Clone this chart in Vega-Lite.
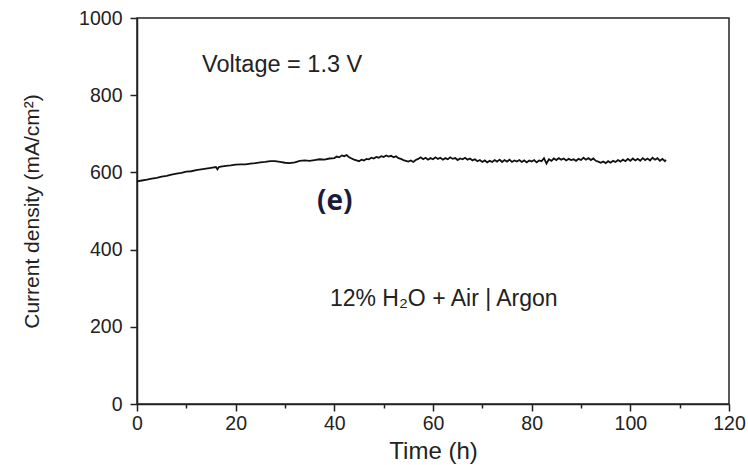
{
  "$schema": "https://vega.github.io/schema/vega-lite/v6.json",
  "autosize": {"type": "none"},
  "width": 592,
  "height": 386,
  "padding": {"left": 137, "top": 18, "right": 19, "bottom": 61},
  "background": "#ffffff",
  "config": {
    "view": {"stroke": "#222222", "strokeWidth": 1.5},
    "font": "Liberation Sans",
    "axis": {"grid": false, "domainColor": "#222222", "domainWidth": 1.5, "tickColor": "#222222", "tickWidth": 1.5, "labelFont": "Liberation Sans", "labelFontSize": 19.5, "labelColor": "#222222", "titleFont": "Liberation Sans", "titleFontSize": 21, "titleFontWeight": "normal", "titleColor": "#222222"}
  },
  "datasets": {
    "series": [
      {"t":0,"j":577},{"t":1,"j":579},{"t":2,"j":581},{"t":3,"j":584},{"t":4,"j":586},{"t":5,"j":589},{"t":6,"j":591},{"t":7,"j":594},{"t":8,"j":597},{"t":9,"j":599},
      {"t":10,"j":602},{"t":11,"j":603},{"t":12,"j":606},{"t":13,"j":608},{"t":14,"j":610},{"t":15,"j":612},{"t":16,"j":614},{"t":16.3,"j":608},{"t":16.6,"j":614},{"t":17,"j":615},{"t":18,"j":617},{"t":19,"j":618},
      {"t":20,"j":620},{"t":21,"j":621},{"t":22,"j":621},{"t":23,"j":623},{"t":24,"j":624},{"t":25,"j":626},{"t":26,"j":627},{"t":27,"j":629},{"t":28,"j":629},{"t":29,"j":627},
      {"t":30,"j":625},{"t":31,"j":624},{"t":32,"j":626},{"t":33,"j":630},{"t":34,"j":631},{"t":35,"j":630},{"t":36,"j":632},{"t":37,"j":634},{"t":38,"j":633},{"t":39,"j":636},
      {"t":40,"j":637},{"t":40.5,"j":641},{"t":41,"j":639},{"t":41.5,"j":644},{"t":42,"j":642},{"t":42.5,"j":645},{"t":43,"j":639},{"t":43.5,"j":636},{"t":44,"j":633},{"t":44.5,"j":631},
      {"t":45,"j":629},{"t":45.5,"j":633},{"t":46,"j":631},{"t":46.5,"j":635},{"t":47,"j":634},{"t":47.5,"j":638},{"t":48,"j":636},{"t":48.5,"j":640},{"t":49,"j":638},{"t":49.5,"j":642},
      {"t":50,"j":640},{"t":50.5,"j":644},{"t":51,"j":641},{"t":51.5,"j":643},{"t":52,"j":639},{"t":52.5,"j":642},{"t":53,"j":637},{"t":53.5,"j":635},{"t":54,"j":632},{"t":54.5,"j":630},
      {"t":55,"j":628},{"t":55.5,"j":631},{"t":56,"j":627},{"t":56.5,"j":632},{"t":57,"j":635},{"t":57.5,"j":639},{"t":58,"j":634},{"t":58.5,"j":638},{"t":59,"j":633},{"t":59.5,"j":637},
      {"t":60,"j":634},{"t":60.5,"j":639},{"t":61,"j":635},{"t":61.5,"j":638},{"t":62,"j":633},{"t":62.5,"j":637},{"t":63,"j":634},{"t":63.5,"j":639},{"t":64,"j":635},{"t":64.5,"j":637},
      {"t":65,"j":632},{"t":65.5,"j":636},{"t":66,"j":634},{"t":66.5,"j":638},{"t":67,"j":633},{"t":67.5,"j":636},{"t":68,"j":631},{"t":68.5,"j":634},{"t":69,"j":629},{"t":69.5,"j":632},
      {"t":70,"j":627},{"t":70.5,"j":631},{"t":71,"j":626},{"t":71.5,"j":630},{"t":72,"j":627},{"t":72.5,"j":632},{"t":73,"j":628},{"t":73.5,"j":633},{"t":74,"j":627},{"t":74.5,"j":632},
      {"t":75,"j":628},{"t":75.5,"j":633},{"t":76,"j":627},{"t":76.5,"j":631},{"t":77,"j":628},{"t":77.5,"j":632},{"t":78,"j":627},{"t":78.5,"j":631},{"t":79,"j":626},{"t":79.5,"j":631},
      {"t":80,"j":628},{"t":80.5,"j":632},{"t":81,"j":626},{"t":81.5,"j":631},{"t":82,"j":629},{"t":82.5,"j":637},{"t":83,"j":623},{"t":83.5,"j":634},{"t":84,"j":630},{"t":84.5,"j":636},
      {"t":85,"j":632},{"t":85.5,"j":637},{"t":86,"j":633},{"t":86.5,"j":636},{"t":87,"j":631},{"t":87.5,"j":635},{"t":88,"j":632},{"t":88.5,"j":634},{"t":89,"j":630},{"t":89.5,"j":635},
      {"t":90,"j":632},{"t":90.5,"j":638},{"t":91,"j":633},{"t":91.5,"j":637},{"t":92,"j":632},{"t":92.5,"j":636},{"t":93,"j":630},{"t":93.5,"j":628},{"t":94,"j":625},{"t":94.5,"j":628},
      {"t":95,"j":624},{"t":95.5,"j":629},{"t":96,"j":625},{"t":96.5,"j":630},{"t":97,"j":627},{"t":97.5,"j":632},{"t":98,"j":628},{"t":98.5,"j":633},{"t":99,"j":629},{"t":99.5,"j":635},
      {"t":100,"j":630},{"t":100.5,"j":636},{"t":101,"j":631},{"t":101.5,"j":635},{"t":102,"j":630},{"t":102.5,"j":637},{"t":103,"j":632},{"t":103.5,"j":636},{"t":104,"j":631},{"t":104.5,"j":638},
      {"t":105,"j":633},{"t":105.5,"j":637},{"t":106,"j":630},{"t":106.5,"j":635},{"t":107,"j":629},{"t":107.2,"j":633}
    ]
  },
  "layer": [
    {
      "data": {"name": "series"},
      "mark": {"type": "line", "color": "#111111", "strokeWidth": 1.8, "interpolate": "linear"},
      "encoding": {
        "x": {"field": "t", "type": "quantitative", "scale": {"domain": [0, 120], "nice": false},
          "axis": {"title": "Time (h)", "titleFontSize": 24, "format": "d", "values": [0,10,20,30,40,50,60,70,80,90,100,110,120], "labelExpr": "datum.value % 20 == 0 ? datum.label : ''",
            "tickSize": {"condition": {"test": "datum.value % 20 == 0", "value": 7}, "value": 4}, "labelPadding": 3, "titlePadding": 7, "labelFlush": false}},
        "y": {"field": "j", "type": "quantitative", "scale": {"domain": [0, 1000], "nice": false},
          "axis": {"title": "Current density (mA/cm²)", "format": "d", "values": [0,100,200,300,400,500,600,700,800,900,1000], "labelExpr": "datum.value % 200 == 0 ? datum.label : ''",
            "tickSize": {"condition": {"test": "datum.value % 200 == 0", "value": 7}, "value": 4}, "labelPadding": 8, "titlePadding": 36, "labelFlush": false}}
      }
    },
    {
      "data": {"values": [{"t": 13.2, "j": 878, "label": "Voltage = 1.3 V"}]},
      "mark": {"type": "text", "align": "left", "baseline": "middle", "fontSize": 23.5, "font": "Liberation Sans", "color": "#222222"},
      "encoding": {"x": {"field": "t", "type": "quantitative"}, "y": {"field": "j", "type": "quantitative"}, "text": {"field": "label"}}
    },
    {
      "data": {"values": [{"t": 40.1, "j": 523, "label": "(e)"}]},
      "mark": {"type": "text", "align": "center", "baseline": "middle", "fontSize": 28, "fontWeight": "bold", "font": "Open Sans", "color": "#1c1c3a"},
      "encoding": {"x": {"field": "t", "type": "quantitative"}, "y": {"field": "j", "type": "quantitative"}, "text": {"field": "label"}}
    },
    {
      "data": {"values": [{"t": 39.1, "j": 272, "label": "12% H₂O + Air | Argon"}]},
      "mark": {"type": "text", "align": "left", "baseline": "middle", "fontSize": 23, "font": "Liberation Sans", "color": "#222222"},
      "encoding": {"x": {"field": "t", "type": "quantitative"}, "y": {"field": "j", "type": "quantitative"}, "text": {"field": "label"}}
    }
  ]
}
